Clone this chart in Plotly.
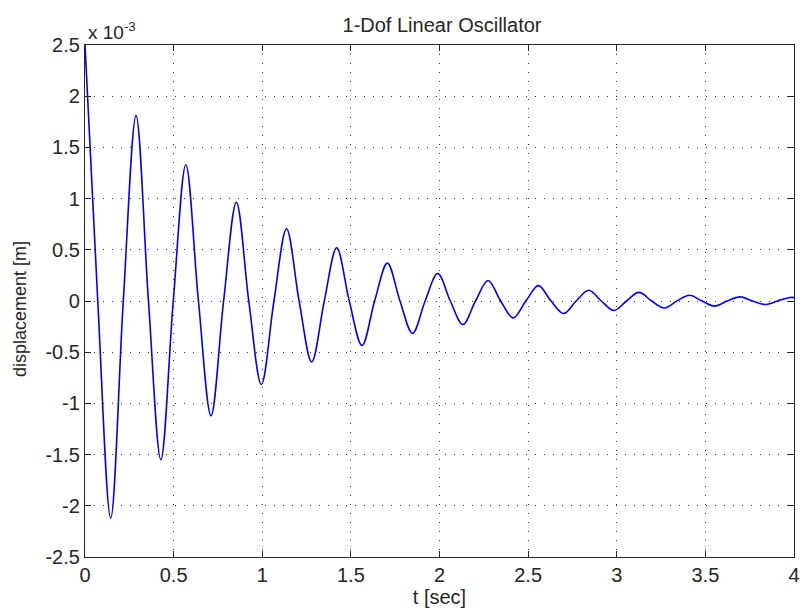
import plotly.graph_objects as go

# Extrema of the response (time in s, displacement in 1e-3 m)
ext_t = [0.0, 0.145, 0.288, 0.428, 0.569, 0.711, 0.854, 0.995, 1.137, 1.279,
         1.420, 1.563, 1.706, 1.848, 1.990, 2.132, 2.274, 2.416, 2.558, 2.700,
         2.842, 2.984, 3.126, 3.268, 3.410, 3.552, 3.694, 3.836, 3.978]
ext_v = [2.5, -2.12, 1.81, -1.55, 1.33, -1.12, 0.965, -0.815, 0.705, -0.595,
         0.52, -0.435, 0.37, -0.317, 0.268, -0.23, 0.20, -0.165, 0.15, -0.122,
         0.105, -0.093, 0.084, -0.068, 0.056, -0.05, 0.04, -0.034, 0.035]

# Zero crossings
zero_t = [0.072, 0.216, 0.358, 0.498, 0.640, 0.782, 0.924, 1.066, 1.208, 1.350,
          1.491, 1.634, 1.777, 1.919, 2.061, 2.203, 2.345, 2.487, 2.629, 2.771,
          2.913, 3.055, 3.197, 3.339, 3.481, 3.623, 3.765, 3.907]
end_t = [4.0]
end_v = [0.033]

pts = sorted(list(zip(ext_t, ext_v)) + [(t, 0.0) for t in zero_t] + list(zip(end_t, end_v)))
t_vals = [p[0] for p in pts]
x_vals = [p[1] for p in pts]

x_ticks = [0, 0.5, 1, 1.5, 2, 2.5, 3, 3.5, 4]
x_tick_labels = ["0", "0.5", "1", "1.5", "2", "2.5", "3", "3.5", "4"]
y_ticks = [-2.5, -2, -1.5, -1, -0.5, 0, 0.5, 1, 1.5, 2, 2.5]
y_tick_labels = ["-2.5", "-2", "-1.5", "-1", "-0.5", "0", "0.5", "1", "1.5", "2", "2.5"]

fig = go.Figure()
fig.add_trace(go.Scatter(
    x=t_vals, y=x_vals, mode="lines",
    line=dict(color="#0000ff", width=1.6, shape="spline", smoothing=1.0),
    showlegend=False, hoverinfo="skip"))

font = "Liberation Sans, Arial, sans-serif"
txt = "#262626"
axis_common = dict(
    showline=True, linecolor="#262626", linewidth=1.3, mirror="allticks",
    ticks="inside", ticklen=6, tickcolor="#262626",
    showgrid=True, gridcolor="#333333", gridwidth=1.3, griddash="1.3px,7.7px",
    zeroline=False, tickfont=dict(family=font, size=20, color=txt),
)

fig.update_layout(
    width=806, height=610,
    margin=dict(l=85, r=6, t=45, b=53),
    paper_bgcolor="white", plot_bgcolor="white",
    title=dict(text="1-Dof Linear Oscillator", x=442 / 806, xanchor="center",
               y=1 - 25 / 610, yanchor="middle",
               font=dict(family=font, size=20, color=txt)),
    xaxis=dict(range=[0, 4], tickvals=x_ticks, ticktext=x_tick_labels,
               title=dict(text="t [sec]", standoff=2,
                          font=dict(family=font, size=20, color=txt)),
               **axis_common),
    yaxis=dict(range=[-2.5, 2.5], tickvals=y_ticks, ticktext=y_tick_labels,
               **axis_common),
    annotations=[
        dict(text="x 10<sup>-3</sup>", xref="paper", yref="paper",
             x=0, y=1, xanchor="left", yanchor="bottom", yshift=0, xshift=1,
             showarrow=False, font=dict(family=font, size=19, color=txt)),
        dict(text="displacement [m]", xref="paper", yref="paper",
             x=0, y=0.5, xanchor="center", yanchor="middle",
             xshift=-65, yshift=-8, textangle=-90,
             showarrow=False, font=dict(family=font, size=18, color=txt)),
    ],
)

fig.write_html("out.html")
